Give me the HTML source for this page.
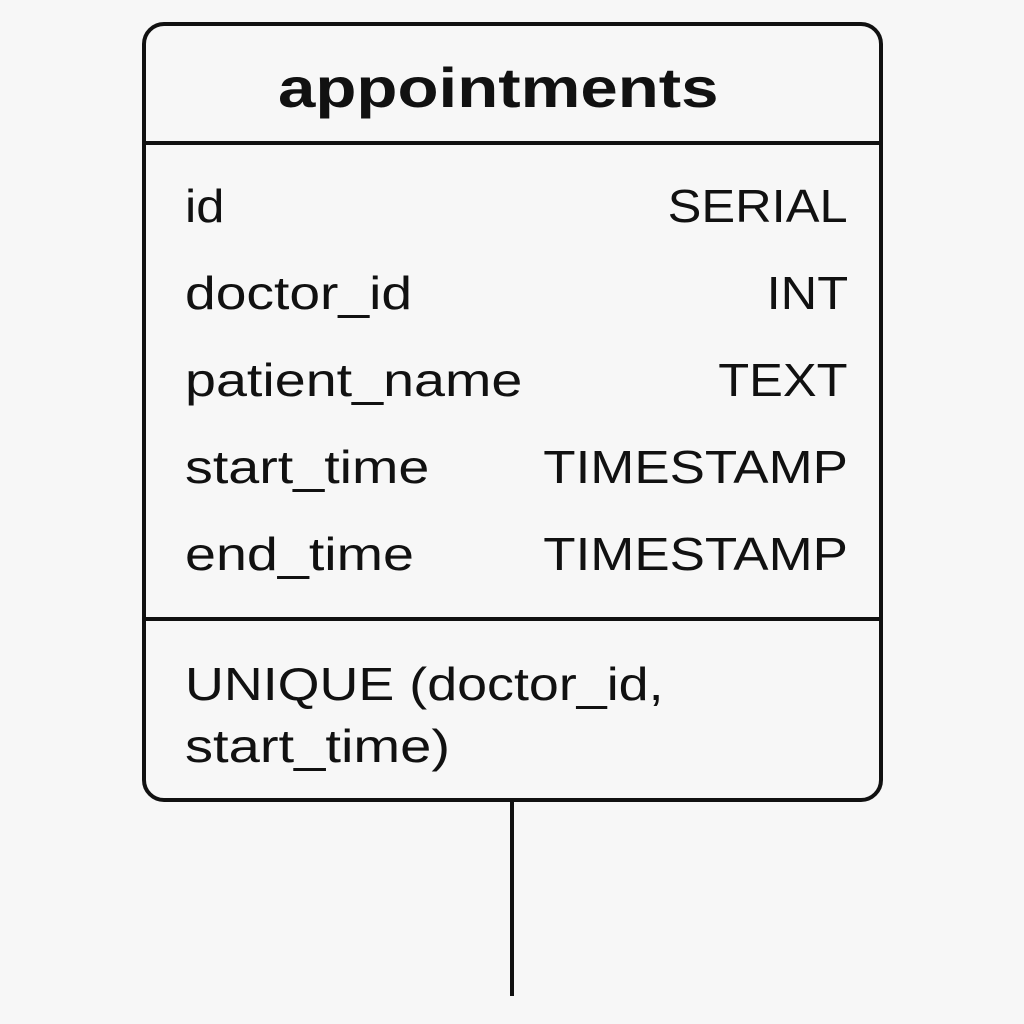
<!DOCTYPE html>
<html><head><style>
html,body{margin:0;padding:0;background:#f7f7f7;width:1024px;height:1024px;overflow:hidden;}
.box{position:absolute;left:142px;top:22px;width:741px;height:780px;border:4px solid #111;border-radius:22px;box-sizing:border-box;}
.hl{position:absolute;left:142px;width:741px;height:4px;background:#111;}
.t{position:absolute;font-family:"Liberation Sans",sans-serif;color:#111;font-size:46px;line-height:1;white-space:nowrap;transform-origin:left top;}
.r{text-align:right;right:176px;transform-origin:right top;}
</style></head><body>
<div class="box"></div>
<div class="hl" style="top:141px"></div>
<div class="hl" style="top:617px"></div>
<div class="t" style="left:278px;top:60px;font-weight:bold;font-size:56px;transform:scaleX(1.2)">appointments</div>
<div class="t" style="left:185px;top:183px;transform:scaleX(1.1)">id</div><div class="t r" style="top:183px;transform:scaleX(1.1)">SERIAL</div>
<div class="t" style="left:185px;top:270px;transform:scaleX(1.2)">doctor_id</div><div class="t r" style="top:270px;transform:scaleX(1.1)">INT</div>
<div class="t" style="left:185px;top:357px;transform:scaleX(1.21)">patient_name</div><div class="t r" style="top:357px;transform:scaleX(1.1)">TEXT</div>
<div class="t" style="left:185px;top:444px;transform:scaleX(1.21)">start_time</div><div class="t r" style="top:444px;transform:scaleX(1.15)">TIMESTAMP</div>
<div class="t" style="left:185px;top:531px;transform:scaleX(1.21)">end_time</div><div class="t r" style="top:531px;transform:scaleX(1.15)">TIMESTAMP</div>
<div class="t" style="left:185px;top:661px;transform:scaleX(1.17)">UNIQUE (doctor_id,</div>
<div class="t" style="left:185px;top:723px;transform:scaleX(1.22)">start_time)</div>
<div style="position:absolute;left:510px;top:800px;width:4px;height:196px;background:#111"></div>
</body></html>
